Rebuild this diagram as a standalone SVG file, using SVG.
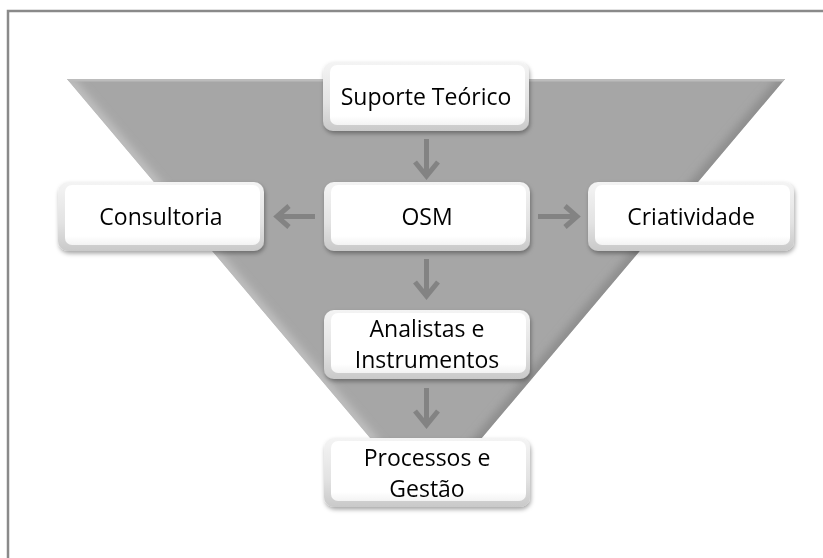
<svg xmlns="http://www.w3.org/2000/svg" width="823" height="558" viewBox="0 0 823 558">
  <defs>
    <style>
      .frame { fill: #ffffff; stroke: #8a8a8a; stroke-width: 2.5; }
      .funnel { fill: #a6a6a6; }
      .box-base { fill: url(#boxEdge); }
      .box-face { fill: url(#boxFace); }
      .label { font-family: "Open Sans", "Liberation Sans", sans-serif; font-size: 23px; fill: #050505; text-anchor: middle; }
      .conn { fill: none; stroke: #838383; stroke-width: 5; stroke-linecap: butt; stroke-linejoin: miter; }
    </style>
    <linearGradient id="boxEdge" x1="0" y1="0" x2="0" y2="1">
      <stop offset="0" stop-color="#f4f4f4"/>
      <stop offset="0.6" stop-color="#e2e2e2"/>
      <stop offset="1" stop-color="#c9c9c9"/>
    </linearGradient>
    <linearGradient id="boxFace" x1="0" y1="0" x2="0" y2="1">
      <stop offset="0" stop-color="#ffffff"/>
      <stop offset="0.85" stop-color="#ffffff"/>
      <stop offset="1" stop-color="#f3f3f3"/>
    </linearGradient>
    <filter id="shadow" x="-10%" y="-20%" width="130%" height="150%">
      <feDropShadow dx="1" dy="2.5" stdDeviation="2.2" flood-color="#000000" flood-opacity="0.35"/>
    </filter>
    <filter id="soft" x="-10%" y="-10%" width="120%" height="120%">
      <feGaussianBlur stdDeviation="4"/>
    </filter>
    <clipPath id="funnelClip">
      <polygon points="67,79 785,79 426,504"/>
    </clipPath>
    <!-- one bevelled tile, reused for every node -->
    <g id="tile">
      <rect class="box-base" x="0" y="0" width="206" height="69" rx="10"/>
      <rect class="box-face" x="7" y="3" width="195" height="60" rx="7"/>
    </g>
  </defs>

  <!-- page frame -->
  <rect class="frame" x="8" y="11" width="830" height="560"/>

  <!-- funnel background -->
  <g id="funnel">
    <polygon class="funnel" points="67,79 785,79 426,504"/>
    <g clip-path="url(#funnelClip)">
      <line x1="67" y1="79" x2="426" y2="504" stroke="#c2c2c2" stroke-width="10" filter="url(#soft)"/>
      <line x1="785" y1="79" x2="426" y2="504" stroke="#8c8c8c" stroke-width="12" filter="url(#soft)"/>
      <line x1="67" y1="80" x2="785" y2="80" stroke="#bcbcbc" stroke-width="3"/>
    </g>
  </g>

  <!-- connectors -->
  <g id="connectors">
    <path class="conn" d="M426.5,139 V177 M415,162 L426.5,176 L438,162"/>
    <path class="conn" d="M426.5,259 V297 M415,282 L426.5,296 L438,282"/>
    <path class="conn" d="M426.5,388 V426 M415,411 L426.5,425 L438,411"/>
    <path class="conn" d="M315,216.5 H276 M289,206 L277,216.5 L289,227"/>
    <path class="conn" d="M538,216.5 H578 M565,206 L577,216.5 L565,227"/>
  </g>

  <!-- nodes -->
  <g id="node-suporte" filter="url(#shadow)">
    <use href="#tile" x="323" y="62"/>
    <text class="label" x="426" y="105">Suporte Teórico</text>
  </g>
  <g id="node-osm" filter="url(#shadow)">
    <use href="#tile" x="324" y="182"/>
    <text class="label" x="427" y="225">OSM</text>
  </g>
  <g id="node-consultoria" filter="url(#shadow)">
    <use href="#tile" x="58" y="182"/>
    <text class="label" x="161" y="225">Consultoria</text>
  </g>
  <g id="node-criatividade" filter="url(#shadow)">
    <use href="#tile" x="588" y="182"/>
    <text class="label" x="691" y="225">Criatividade</text>
  </g>
  <g id="node-analistas" filter="url(#shadow)">
    <use href="#tile" x="324" y="310"/>
    <text class="label" x="427" y="337">Analistas e</text>
    <text class="label" x="427" y="368">Instrumentos</text>
  </g>
  <g id="node-processos" filter="url(#shadow)">
    <use href="#tile" x="324" y="438"/>
    <text class="label" x="427" y="466">Processos e</text>
    <text class="label" x="427" y="497">Gestão</text>
  </g>
</svg>
